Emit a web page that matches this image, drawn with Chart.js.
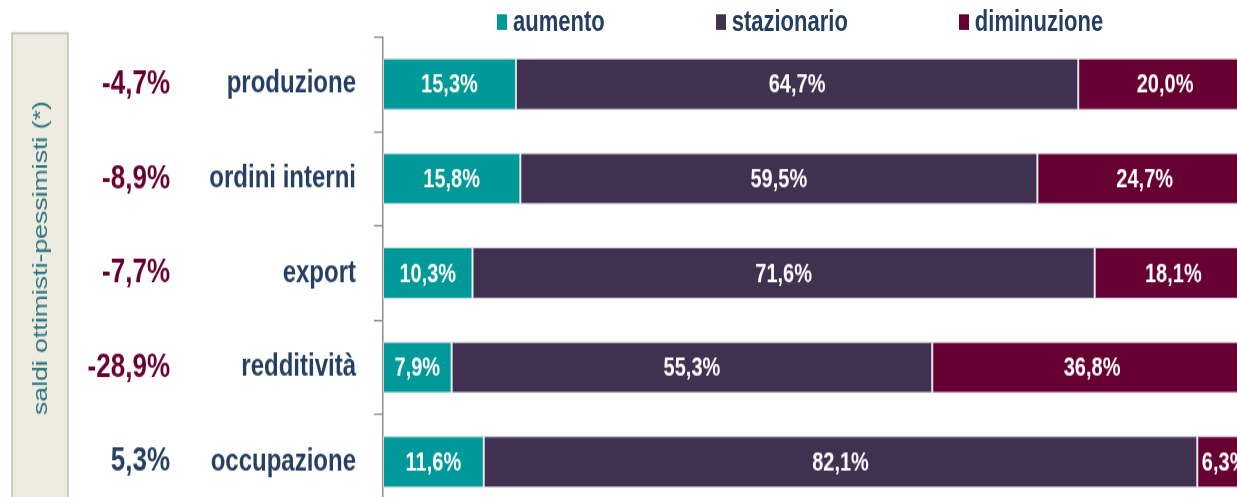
<!DOCTYPE html>
<html>
<head>
<meta charset="utf-8">
<script src="https://cdn.jsdelivr.net/npm/chart.js@4.4.1/dist/chart.umd.min.js"></script>
<style>
  html, body { margin: 0; padding: 0; background: #fff; overflow: hidden; width: 1237px; height: 497px; }
  /* il grafico originale è stirato in verticale */
  #wrap { position: absolute; left: 0; top: 0; width: 1260px; height: 431px;
          transform: scaleY(1.3); transform-origin: 0 0; }
  #legend { position: absolute; left: 497px; top: 6px; display: flex; gap: 111px; line-height: 22px;
            font-family: "Liberation Sans", Arial, sans-serif;
            font-weight: bold; font-size: 22px; color: #243F60; }
  #legend .item { display: flex; align-items: center; }
  #legend .box { width: 10px; height: 12px; margin-right: 6px; }
</style>
</head>
<body>
<div id="wrap">
  <canvas id="chart" width="1260" height="431"></canvas>
  <div id="legend"></div>
</div>
<script>
// categorie e valori (%)
const categories = ['produzione', 'ordini interni', 'export', 'redditività', 'occupazione'];
const aumento = [15.3, 15.8, 10.3, 7.9, 11.6];
const stazionario = [64.7, 59.5, 71.6, 55.3, 82.1];
const diminuzione = [20.0, 24.7, 18.1, 36.8, 6.3];
// saldi ottimisti-pessimisti
const saldi = [-4.7, -8.9, -7.7, -28.9, 5.3];

const FONT = '"Liberation Sans", Arial, sans-serif';
const NAVY = '#243F60';
const MAROON = '#660033';

const fmt = v => v.toFixed(1).replace('.', ',') + '%';

// riquadro a sinistra con testo ruotato
const sideBox = {
  id: 'sideBox',
  beforeDraw(chart) {
    const ctx = chart.ctx;
    ctx.save();
    ctx.fillStyle = '#EEECE1';
    ctx.strokeStyle = '#BFBFBF';
    ctx.lineWidth = 1.5;
    ctx.fillRect(12, 25.5, 56, 420);
    ctx.strokeRect(12, 25.5, 56, 420);
    ctx.translate(41, 198.5);
    ctx.rotate(-Math.PI / 2);
    ctx.fillStyle = '#2B7380';
    ctx.font = '20.5px ' + FONT;
    ctx.textAlign = 'center';
    ctx.textBaseline = 'middle';
    ctx.fillText('saldi ottimisti-pessimisti (*)', 0, 0);
    ctx.restore();
  }
};

// etichette dentro le barre
const barLabels = {
  id: 'barLabels',
  afterDatasetsDraw(chart) {
    const ctx = chart.ctx;
    ctx.save();
    ctx.fillStyle = '#fff';
    ctx.font = 'bold 20px ' + FONT;
    ctx.textAlign = 'center';
    ctx.textBaseline = 'middle';
    chart.data.datasets.forEach((ds, i) => {
      chart.getDatasetMeta(i).data.forEach((el, j) => {
        const p = el.getProps(['x', 'y', 'base'], true);
        ctx.fillText(fmt(ds.data[j]), (p.x + p.base) / 2, p.y + 1);
      });
    });
    ctx.restore();
  }
};

// niente margini extra per le etichette degli assi verticali
const noPad = w => s => { s.width = w; s.paddingTop = 0; s.paddingBottom = 0; };

const chart = new Chart(document.getElementById('chart'), {
  type: 'bar',
  data: {
    labels: categories,
    datasets: [
      { label: 'aumento', data: aumento, backgroundColor: '#009999' },
      { label: 'stazionario', data: stazionario, backgroundColor: '#403151' },
      { label: 'diminuzione', data: diminuzione, backgroundColor: '#660033' }
    ]
  },
  options: {
    indexAxis: 'y',
    responsive: false,
    animation: false,
    layout: { padding: { left: 80, right: 8, top: 28.5, bottom: 39.5 } },
    datasets: {
      bar: {
        barPercentage: 0.55,
        categoryPercentage: 1,
        borderColor: 'rgba(215,210,225,0.9)',
        borderWidth: 1,
        borderSkipped: false
      }
    },
    scales: {
      x: { stacked: true, min: 0, max: 100, display: false },
      y: {
        stacked: true,
        weight: 0,
        grid: { drawOnChartArea: false, tickLength: 9, color: '#8C8C8C', lineWidth: 1.2 },
        border: { color: '#8C8C8C', width: 1.5 },
        ticks: { color: NAVY, padding: 18, font: { family: FONT, size: 24, weight: 'bold' } },
        afterFit: noPad(193)
      },
      saldo: {
        type: 'category',
        position: 'left',
        weight: 1,
        offset: true,
        labels: saldi.map(fmt),
        grid: { display: false, drawTicks: false },
        border: { display: false },
        ticks: {
          padding: 20,
          color: c => saldi[c.index] < 0 ? MAROON : NAVY,
          font: { family: FONT, size: 26, weight: 'bold' }
        },
        afterFit: noPad(110)
      }
    },
    plugins: {
      legend: { display: false },
      tooltip: { enabled: false }
    }
  },
  plugins: [sideBox, barLabels]
});

// legenda in HTML dai dataset
const legend = document.getElementById('legend');
chart.data.datasets.forEach(ds => {
  const item = document.createElement('div');
  item.className = 'item';
  const box = document.createElement('span');
  box.className = 'box';
  box.style.background = ds.backgroundColor;
  const txt = document.createElement('span');
  txt.textContent = ds.label;
  item.appendChild(box);
  item.appendChild(txt);
  legend.appendChild(item);
});
</script>
</body>
</html>
